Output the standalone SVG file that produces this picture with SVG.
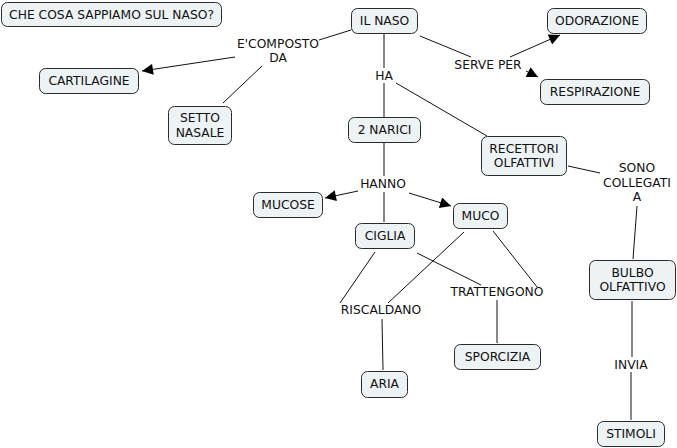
<svg xmlns="http://www.w3.org/2000/svg" width="677" height="448" viewBox="0 0 677 448">
<defs>
<style>
.n rect{fill:#EDF2F5;stroke:#2a2a2a;stroke-width:1}
text{font-family:"DejaVu Sans",Verdana,sans-serif;font-size:12.3px;fill:#111;text-anchor:middle}
.c line{stroke:#111;stroke-width:1}
</style>
<marker id="ah" viewBox="0 0 10 10" refX="10" refY="5" markerWidth="13" markerHeight="11" markerUnits="userSpaceOnUse" orient="auto">
<path d="M0,0 L10,5 L0,10 z" fill="#000"/>
</marker>
</defs>
<rect width="677" height="448" fill="#fff"/>
<g class="c">
<line x1="351" y1="30" x2="319" y2="40"/>
<line x1="235" y1="57" x2="142" y2="71" marker-end="url(#ah)"/>
<line x1="262" y1="66" x2="223" y2="103"/>
<line x1="384" y1="33" x2="384" y2="68"/>
<line x1="384" y1="83" x2="384" y2="117"/>
<line x1="396" y1="83" x2="487" y2="136"/>
<line x1="420" y1="36" x2="471" y2="57"/>
<line x1="510" y1="57" x2="560" y2="35" marker-end="url(#ah)"/>
<line x1="526" y1="71" x2="538" y2="77" marker-end="url(#ah)"/>
<line x1="384" y1="142" x2="384" y2="176"/>
<line x1="358" y1="191" x2="325" y2="198" marker-end="url(#ah)"/>
<line x1="409" y1="193" x2="451" y2="206" marker-end="url(#ah)"/>
<line x1="384" y1="192" x2="384" y2="222"/>
<line x1="375" y1="252" x2="340" y2="303"/>
<line x1="464" y1="232" x2="388" y2="303"/>
<line x1="417" y1="253" x2="481" y2="285"/>
<line x1="493" y1="231" x2="537" y2="287"/>
<line x1="497" y1="300" x2="497" y2="343"/>
<line x1="382" y1="319" x2="383" y2="370"/>
<line x1="568" y1="166" x2="600" y2="173"/>
<line x1="637" y1="206" x2="633" y2="259"/>
<line x1="632" y1="301" x2="632" y2="357"/>
<line x1="631" y1="372" x2="631" y2="420"/>
</g>
<g id="titolo" class="n"><rect x="1.5" y="2.5" width="220" height="24" rx="6"/><text x="111.5" y="19">CHE COSA SAPPIAMO SUL NASO?</text></g>
<g id="ilnaso" class="n"><rect x="351.5" y="8.5" width="66" height="25" rx="6"/><text x="384.5" y="25">IL NASO</text></g>
<g id="odorazione" class="n"><rect x="547.5" y="8.5" width="99" height="25" rx="6"/><text x="597" y="25">ODORAZIONE</text></g>
<g id="respirazione" class="n"><rect x="540.5" y="79.5" width="109" height="25" rx="6"/><text x="595" y="96">RESPIRAZIONE</text></g>
<g id="cartilagine" class="n"><rect x="39.5" y="68.5" width="99" height="25" rx="6"/><text x="89" y="85">CARTILAGINE</text></g>
<g id="setto" class="n"><rect x="168.5" y="106.5" width="63" height="38" rx="6"/><text x="200" y="122">SETTO</text><text x="200" y="137">NASALE</text></g>
<g id="narici" class="n"><rect x="348.5" y="117.5" width="72" height="25" rx="6"/><text x="384.5" y="134">2 NARICI</text></g>
<g id="recettori" class="n"><rect x="481.5" y="136.5" width="85" height="39" rx="6"/><text x="524" y="153">RECETTORI</text><text x="524" y="167">OLFATTIVI</text></g>
<g id="mucose" class="n"><rect x="253.5" y="192.5" width="69" height="25" rx="6"/><text x="288" y="209">MUCOSE</text></g>
<g id="ciglia" class="n"><rect x="355.5" y="223.5" width="59" height="25" rx="6"/><text x="385" y="240">CIGLIA</text></g>
<g id="muco" class="n"><rect x="453.5" y="203.5" width="54" height="25" rx="6"/><text x="480.5" y="220">MUCO</text></g>
<g id="bulbo" class="n"><rect x="589.5" y="260.5" width="86" height="39" rx="6"/><text x="632.5" y="277">BULBO</text><text x="632.5" y="291">OLFATTIVO</text></g>
<g id="sporcizia" class="n"><rect x="454.5" y="344.5" width="86" height="25" rx="6"/><text x="497.5" y="361">SPORCIZIA</text></g>
<g id="aria" class="n"><rect x="361.5" y="371.5" width="46" height="26" rx="6"/><text x="384.5" y="388">ARIA</text></g>
<g id="stimoli" class="n"><rect x="597.5" y="421.5" width="67" height="25" rx="6"/><text x="631" y="438">STIMOLI</text></g>
<g id="lbl-composto"><text x="278" y="48">E'COMPOSTO</text><text x="278" y="62">DA</text></g>
<g id="lbl-serve"><text x="488" y="69">SERVE PER</text></g>
<g id="lbl-ha"><text x="384" y="80">HA</text></g>
<g id="lbl-hanno"><text x="383" y="188">HANNO</text></g>
<g id="lbl-trattengono"><text x="497" y="296">TRATTENGONO</text></g>
<g id="lbl-riscaldano"><text x="381" y="314">RISCALDANO</text></g>
<g id="lbl-sono"><text x="637" y="172">SONO</text><text x="637" y="187">COLLEGATI</text><text x="637" y="201">A</text></g>
<g id="lbl-invia"><text x="631" y="369">INVIA</text></g>
</svg>
